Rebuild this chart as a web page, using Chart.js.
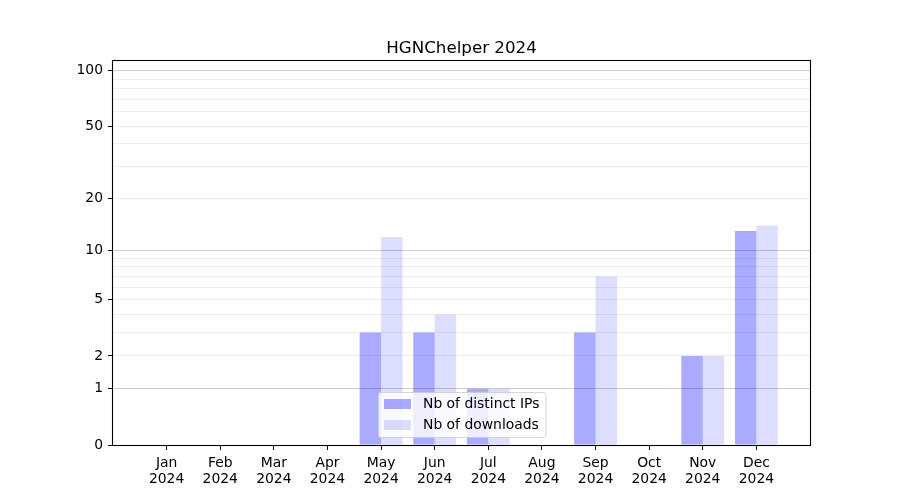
<!DOCTYPE html>
<html>
<head>
<meta charset="utf-8">
<script src="https://cdn.jsdelivr.net/npm/chart.js@4/dist/chart.umd.min.js"></script>
<style>
  html, body { margin: 0; padding: 0; background: #fff; }
</style>
</head>
<body>
<canvas id="chart" width="900" height="500"></canvas>
<script>
const months = ['Jan', 'Feb', 'Mar', 'Apr', 'May', 'Jun', 'Jul', 'Aug', 'Sep', 'Oct', 'Nov', 'Dec'];
const year = '2024';
const distinctIPs = [0, 0, 0, 0, 3, 3, 1, 0, 3, 0, 2, 13];
const downloads = [0, 0, 0, 0, 12, 4, 1, 0, 7, 0, 2, 14];
const yTicks = [0, 1, 2, 3, 4, 5, 6, 7, 8, 9, 10, 20, 30, 40, 50, 60, 70, 80, 90, 100];
const yLabelled = [0, 1, 2, 5, 10, 20, 50, 100];
const yMajor = [1, 10, 100];
const yMax = 113;
const titleText = 'HGNChelper 2024';

const FONT = 'DejaVu Sans';

// y axis is log10(x + 1)
const fwd = v => Math.log10(Math.max(v, 0) + 1);
const inv = t => Math.pow(10, t) - 1;

class Log1pScale extends Chart.LinearScale {
  buildTicks() {
    return yTicks.map(v => ({ value: v }));
  }
  configure() {
    super.configure();
    this._tMin = fwd(this.min);
    this._tRange = fwd(this.max) - this._tMin;
  }
  getPixelForValue(v) {
    return this.getPixelForDecimal((fwd(v) - this._tMin) / this._tRange);
  }
  getValueForPixel(p) {
    return inv(this.getDecimalForPixel(p) * this._tRange + this._tMin);
  }
}
Log1pScale.id = 'log1p';
Log1pScale.defaults = {};
Chart.register(Log1pScale);

// pad the category axis with an empty slot on each side, like the matplotlib margins
const labels = [''].concat(months.map(m => [m, year]), ['']);
const pad = arr => [null].concat(arr, [null]);

const frame = {
  id: 'frame',
  afterDraw(chart) {
    const { ctx, chartArea: a } = chart;
    ctx.save();
    ctx.strokeStyle = '#000';
    ctx.lineWidth = 1.1;
    ctx.strokeRect(a.left - 0.5, a.top - 0.5, a.right - a.left + 1, a.bottom - a.top + 1);

    // title centred over the axes
    ctx.fillStyle = '#000';
    ctx.font = '16.7px "' + FONT + '"';
    ctx.textAlign = 'center';
    ctx.textBaseline = 'alphabetic';
    ctx.fillText(titleText, (a.left + a.right) / 2, a.top - 8);

    // legend box, lower centre
    const ds = chart.data.datasets;
    ctx.font = '13.9px "' + FONT + '"';
    const textW = Math.max(...ds.map(d => ctx.measureText(d.label).width));
    const x0 = a.left + 265, y0 = a.bottom - 53;
    const w = 310 - 265 + textW + 6, h = 45;
    ctx.fillStyle = 'rgba(255,255,255,0.8)';
    ctx.strokeStyle = 'rgba(204,204,204,0.8)';
    ctx.lineWidth = 1;
    ctx.beginPath();
    ctx.roundRect(x0 + 0.5, y0 + 0.5, w, h, 2);
    ctx.fill();
    ctx.stroke();
    ds.forEach((d, i) => {
      const cy = y0 + 12 + i * 21;
      ctx.fillStyle = d.backgroundColor;
      ctx.fillRect(x0 + 6, cy - 5, 27, 10);
      ctx.fillStyle = '#000';
      ctx.textBaseline = 'middle';
      ctx.textAlign = 'left';
      ctx.fillText(d.label, x0 + 45, cy);
    });
    ctx.restore();
  }
};

new Chart(document.getElementById('chart'), {
  type: 'bar',
  data: {
    labels: labels,
    datasets: [
      {
        label: 'Nb of distinct IPs',
        data: pad(distinctIPs),
        backgroundColor: 'rgba(0,0,255,0.333)',
        borderWidth: 0
      },
      {
        label: 'Nb of downloads',
        data: pad(downloads),
        backgroundColor: 'rgba(0,0,255,0.133)',
        borderWidth: 0
      }
    ]
  },
  options: {
    responsive: false,
    animation: false,
    layout: { padding: { left: 0, right: 90, top: 61, bottom: 0 } },
    datasets: { bar: { categoryPercentage: 0.8, barPercentage: 1.0 } },
    plugins: {
      legend: { display: false },
      tooltip: { enabled: false },
      title: { display: false }
    },
    scales: {
      x: {
        type: 'category',
        offset: false,
        border: { display: false },
        grid: {
          offset: false,
          drawOnChartArea: false,
          tickLength: 5,
          tickColor: c => (c.index === 0 || c.index === labels.length - 1) ? 'rgba(0,0,0,0)' : '#000'
        },
        ticks: {
          autoSkip: false,
          maxRotation: 0,
          padding: 5,
          color: '#000',
          font: { family: FONT, size: 13.9, lineHeight: 1.15 }
        },
        afterFit: s => { s.height = 55; }
      },
      y: {
        type: 'log1p',
        min: 0,
        max: yMax,
        border: { display: false },
        grid: {
          tickLength: 5,
          lineWidth: 1,
          color: c => {
            const v = c.tick ? c.tick.value : 0;
            if (v === 0) return 'rgba(0,0,0,0)';
            return yMajor.includes(v) ? 'rgba(0,0,0,0.2)' : 'rgba(0,0,0,0.07)';
          },
          tickColor: c => (c.tick && yLabelled.includes(c.tick.value)) ? '#000' : 'rgba(0,0,0,0)'
        },
        ticks: {
          autoSkip: false,
          padding: 5,
          color: '#000',
          font: { family: FONT, size: 13.9 },
          callback: v => yLabelled.includes(v) ? String(v) : ''
        },
        afterFit: s => { s.width = 113; }
      }
    }
  },
  plugins: [frame]
});
</script>
</body>
</html>
